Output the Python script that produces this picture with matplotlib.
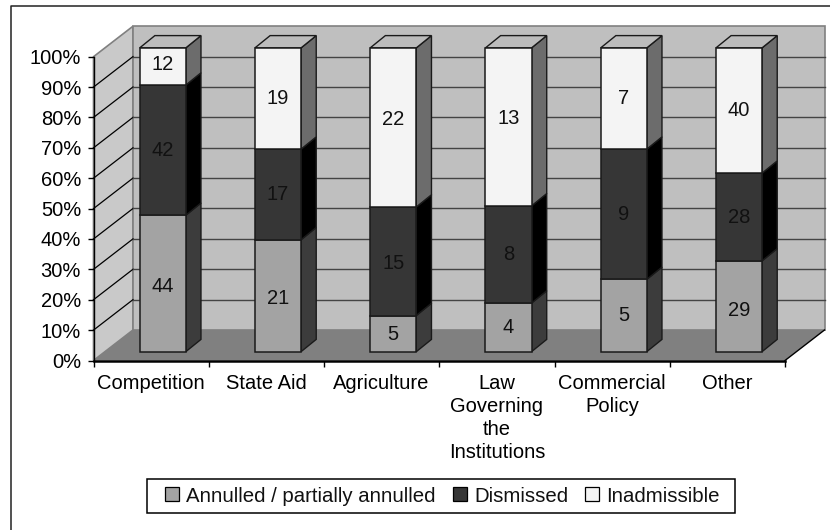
import matplotlib
matplotlib.use('Agg')
import matplotlib.pyplot as plt
from matplotlib.patches import Polygon, Rectangle, Patch
from matplotlib.lines import Line2D

# ========== data ==========
categories = ['Competition', 'State Aid', 'Agriculture',
              'Law\nGoverning\nthe\nInstitutions', 'Commercial\nPolicy', 'Other']
annulled = [44, 21, 5, 4, 5, 29]
dismissed = [42, 17, 15, 8, 9, 28]
inadmissible = [12, 19, 22, 13, 7, 40]
series_names = ['Annulled / partially annulled', 'Dismissed', 'Inadmissible']
y_ticks = list(range(0, 101, 10))

# ========== style ==========
W, H = 830, 530
PX0, PX1 = 93.5, 785.0    # front plane, pixels
PY0, PY100 = 360.5, 56.7
FRONT = ['#a3a3a3', '#363636', '#f4f4f4']
SIDE = ['#3c3c3c', '#000000', '#6c6c6c']
TOP = '#bcbcbc'
# value labels that do not sit mid-segment in the original: (bar, series) -> pixels up
LABEL_NUDGE = {(0, 0): -3, (1, 0): -3, (5, 0): -4, (0, 2): 2, (2, 0): -1, (2, 1): -2,
               (2, 2): 8, (3, 2): 8}

plt.rcParams['font.family'] = ['Liberation Sans', 'DejaVu Sans']
plt.rcParams['font.size'] = 14.5
plt.rcParams['text.color'] = '#111111'

fig = plt.figure(figsize=(W / 100, H / 100), dpi=100)
ax = fig.add_axes([PX0 / W, 1 - PY0 / H, (PX1 - PX0) / W, (PY0 - PY100) / H])
ax.set_xlim(0, len(categories))
ax.set_ylim(0, 100)
ux = (PX1 - PX0) / len(categories)  # pixels per category
uy = (PY0 - PY100) / 100            # pixels per percent


def off(px, py):
    # oblique offset given in pixels -> data units
    return px / ux, py / uy


def poly(pts, fc, ec='none', lw=0, z=1):
    ax.add_patch(Polygon(pts, closed=True, facecolor=fc, edgecolor=ec, linewidth=lw,
                         zorder=z, clip_on=False, joinstyle='miter'))


n = len(categories)
wx, wy = off(39.5, 30.5)  # depth of the whole box

# walls
poly([(0, 0), (wx, wy), (wx, 100 + wy), (0, 100)], '#c9c9c9', '#808080', 1.2, 1)
poly([(wx, wy), (n + wx, wy), (n + wx, 100 + wy), (wx, 100 + wy)], '#bfbfbf', '#808080', 1.2, 1)
for t in y_ticks[1:-1] + [100]:
    if t < 100:
        ax.plot([0, wx], [t, t + wy], color='black', lw=0.9, zorder=2, clip_on=False)
        ax.plot([wx, n + wx], [t + wy, t + wy], color='#444444', lw=1.0, zorder=2, clip_on=False)
# floor
poly([(0, 0), (n, 0), (n + wx, wy), (wx, wy)], '#808080', z=3)
ax.plot([n, n + wx], [0, wy], color='black', lw=1.0, zorder=3, clip_on=False)

# bars
bar_w = 0.4
fx, fy = off(11.6, 8.8)    # gap between front plane and bar
dx, dy = off(15.2, 12.3)   # bar depth
for i in range(n):
    vals = [annulled[i], dismissed[i], inadmissible[i]]
    total = sum(vals)
    left = i + 0.5 - bar_w / 2 + fx
    right = left + bar_w
    base = fy
    for j, v in enumerate(vals):
        h = 100 * v / total
        y0, y1 = base, base + h
        poly([(right, y0), (right + dx, y0 + dy), (right + dx, y1 + dy), (right, y1)],
             SIDE[j], '#1a1a1a', 1.0, 4)
        poly([(left, y0), (right, y0), (right, y1), (left, y1)], FRONT[j], '#1a1a1a', 1.1, 5)
        ax.text((left + right) / 2, (y0 + y1) / 2 + LABEL_NUDGE.get((i, j), 0) / uy, str(v),
                ha='center', va='center', zorder=6)
        base = y1
    poly([(left, base), (right, base), (right + dx, base + dy), (left + dx, base + dy)],
         TOP, '#1a1a1a', 1.0, 4)

# axes
for s in ['top', 'right']:
    ax.spines[s].set_visible(False)
ax.patch.set_visible(False)
ax.spines['left'].set_linewidth(1.0)
ax.spines['bottom'].set_linewidth(1.8)
ax.spines['left'].set_zorder(7)
ax.spines['bottom'].set_zorder(7)
ax.set_yticks(y_ticks)
ax.set_yticklabels([f'{t}%' for t in y_ticks])
ax.tick_params(axis='y', length=4, width=1.0, pad=5)
ax.set_xticks(range(n + 1))
ax.set_xticklabels([])
ax.tick_params(axis='x', which='major', length=4, width=1.0)
ax.set_xticks([i + 0.5 for i in range(n)], minor=True)
ax.set_xticklabels(categories, minor=True, linespacing=1.25, ha='center', va='top')
ax.tick_params(axis='x', which='minor', length=0, pad=10)

# legend: box drawn apart because it is wider than its padding would give
fig.add_artist(Rectangle((147 / W, 1 - 513 / H), 588 / W, 34 / H, transform=fig.transFigure,
                         facecolor='white', edgecolor='black', linewidth=1.1))
handles = [Patch(facecolor=c, edgecolor='black', linewidth=0.9) for c in FRONT]
leg = fig.legend(handles, series_names, ncol=3, loc='center',
                 bbox_to_anchor=(442.5 / W, 1 - 496 / H), frameon=False, fontsize=14.7,
                 handlelength=0.68, handleheight=0.68,
                 handletextpad=0.35, columnspacing=0.85, borderpad=0)

# outer frame: only the top and left edges are in the picture
fig.add_artist(Line2D([11 / W, 11 / W, 1], [0, 1 - 6 / H, 1 - 6 / H],
                      transform=fig.transFigure, color='#222222', linewidth=1.1))

fig.savefig('out.png', dpi=100)
